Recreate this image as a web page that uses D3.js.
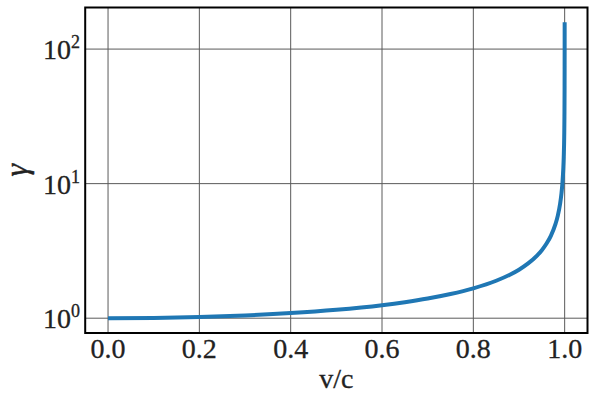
<!DOCTYPE html>
<html><head><meta charset="utf-8">
<script src="https://cdn.jsdelivr.net/npm/d3@7"></script>
<style>html,body{margin:0;padding:0;background:#fff;}</style>
</head><body>
<svg id="chart" width="594" height="403"></svg>
<script>
// Data (v/c and Lorentz factor gamma)
const velocity = [0, 0.1, 0.2, 0.3, 0.4, 0.5, 0.6, 0.65, 0.7, 0.75, 0.8, 0.85, 0.88, 0.9, 0.92, 0.94, 0.95, 0.96, 0.97, 0.98, 0.985, 0.99, 0.993, 0.995, 0.997, 0.998, 0.999, 0.9995, 0.9998, 0.9999, 0.99995, 0.99998];
const gamma =    [1.0, 1.005, 1.021, 1.048, 1.091, 1.155, 1.25, 1.316, 1.40, 1.512, 1.667, 1.898, 2.105, 2.294, 2.552, 2.931, 3.203, 3.571, 4.113, 5.025, 5.783, 7.089, 8.470, 10.01, 12.92, 15.82, 22.37, 31.63, 50.0, 70.71, 100.0, 158.1];
const xTicks = [0.0, 0.2, 0.4, 0.6, 0.8, 1.0];
const yTicks = [1, 10, 100];
const yTickExp = ["0", "1", "2"];
const xLabel = "v/c";
const yLabel = "γ";

const svg = d3.select("#chart");
const L = 85.2, R = 587.5, T = 7.5, B = 333;
const x = d3.scaleLinear().domain([-0.05, 1.05]).range([L, R]);
const y = d3.scaleLog().domain([Math.pow(10, -0.110), Math.pow(10, 2.309)]).range([B, T]);

const font = "'Liberation Serif', 'Times New Roman', serif";

// grid
const grid = svg.append("g");
grid.selectAll("line.gx").data(xTicks).enter().append("line")
  .attr("x1", d => x(d)).attr("x2", d => x(d)).attr("y1", T).attr("y2", B)
  .attr("stroke", "#5a5a5a").attr("stroke-width", 1);
grid.selectAll("line.gy").data(yTicks).enter().append("line")
  .attr("y1", d => y(d)).attr("y2", d => y(d)).attr("x1", L).attr("x2", R)
  .attr("stroke", "#5a5a5a").attr("stroke-width", 1);

// curve
const pts = velocity.map((v, i) => [v, gamma[i]]);
svg.append("path").datum(pts)
  .attr("d", d3.line().x(d => x(d[0])).y(d => y(d[1])).curve(d3.curveMonotoneX))
  .attr("fill", "none").attr("stroke", "#1f77b4").attr("stroke-width", 4)
  .attr("stroke-linecap", "butt");

// frame
svg.append("rect").attr("x", L).attr("y", T).attr("width", R - L).attr("height", B - T)
  .attr("fill", "none").attr("stroke", "#000").attr("stroke-width", 2);

// x tick labels
svg.selectAll("text.xt").data(xTicks).enter().append("text")
  .attr("x", d => x(d)).attr("y", 358)
  .attr("text-anchor", "middle").attr("font-family", font).attr("font-size", 28)
  .attr("fill", "#222").attr("stroke", "#222").attr("stroke-width", 0.3)
  .text(d => d.toFixed(1));

// y tick labels
yTicks.forEach((t, i) => {
  const tx = svg.append("text").attr("x", 80).attr("y", y(t) + 10)
    .attr("text-anchor", "end").attr("font-family", font).attr("font-size", 28)
    .attr("fill", "#222").attr("stroke", "#222").attr("stroke-width", 0.3);
  tx.append("tspan").text("10");
  tx.append("tspan").attr("dy", -11).attr("font-size", 18).text(yTickExp[i]);
});

// axis labels
svg.append("text").attr("x", (L + R) / 2).attr("y", 388)
  .attr("text-anchor", "middle").attr("font-family", font).attr("font-size", 28)
  .attr("fill", "#222").attr("stroke", "#222").attr("stroke-width", 0.3).text(xLabel);
svg.append("text").attr("transform", `translate(27,${(T + B) / 2}) rotate(-90)`)
  .attr("text-anchor", "middle").attr("font-family", font).attr("font-style", "italic").attr("font-size", 32)
  .attr("fill", "#222").attr("stroke", "#222").attr("stroke-width", 0.5).text(yLabel);
</script>
</body></html>
